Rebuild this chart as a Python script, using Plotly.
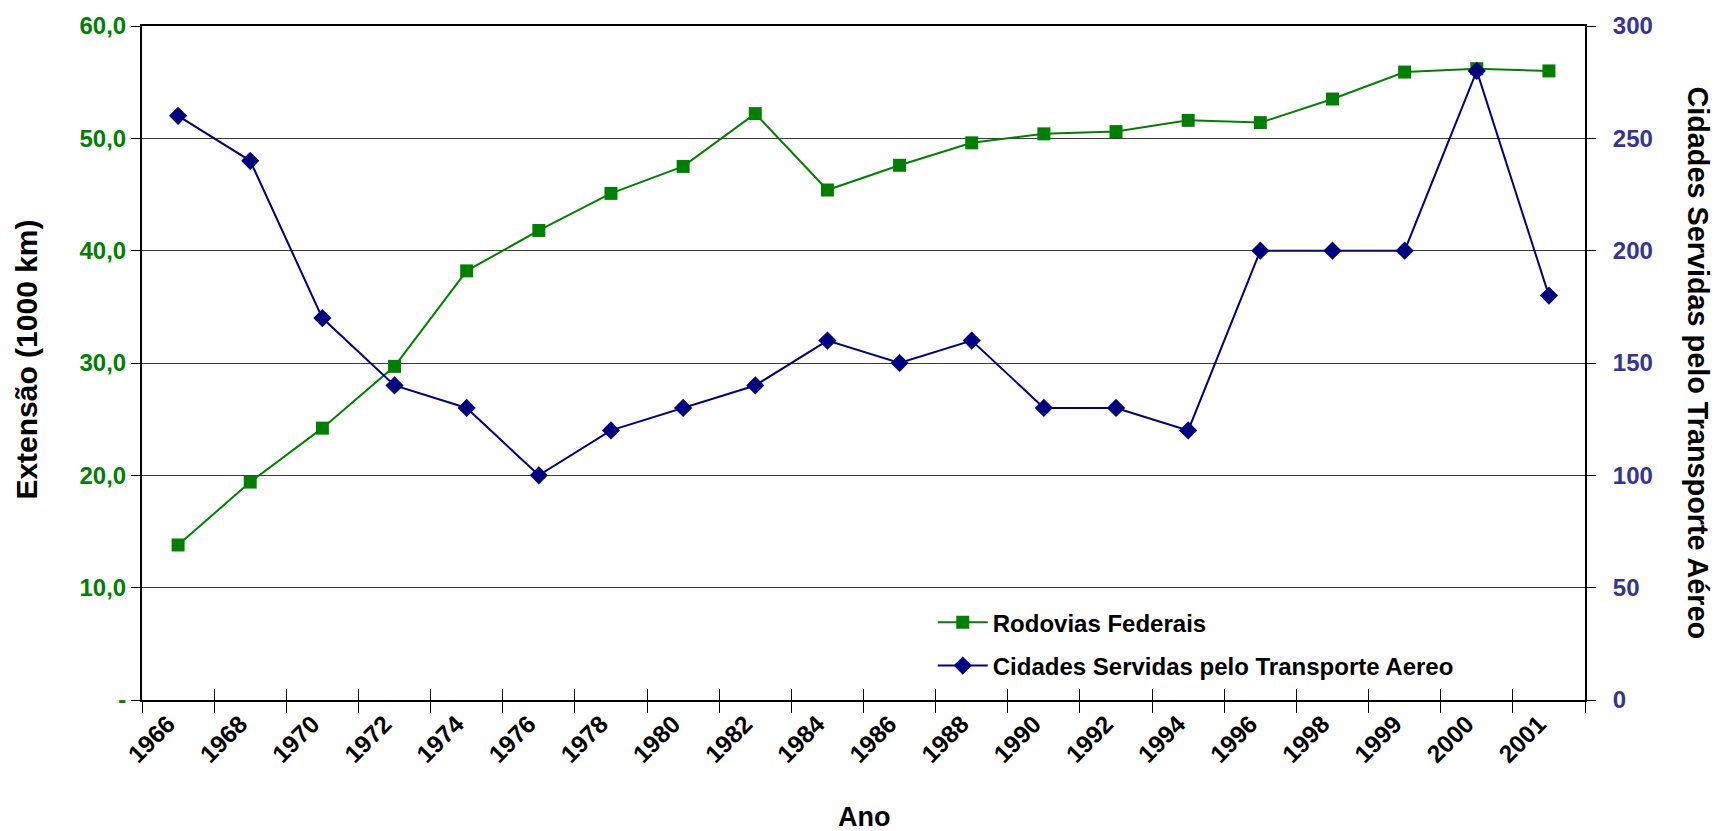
import plotly.graph_objects as go

anos = ["1966", "1968", "1970", "1972", "1974", "1976", "1978", "1980", "1982", "1984",
        "1986", "1988", "1990", "1992", "1994", "1996", "1998", "1999", "2000", "2001"]
rodovias = [13.8, 19.4, 24.2, 29.7, 38.2, 41.8, 45.1, 47.5, 52.2, 45.4,
            47.6, 49.6, 50.4, 50.6, 51.6, 51.4, 53.5, 55.9, 56.2, 56.0]
cidades = [260, 240, 170, 140, 130, 100, 120, 130, 140, 160,
           150, 160, 130, 130, 120, 200, 200, 200, 280, 180]

left_vals = [0, 10, 20, 30, 40, 50, 60]
left_text = ["-", "10,0", "20,0", "30,0", "40,0", "50,0", "60,0"]
right_vals = [0, 50, 100, 150, 200, 250, 300]

GREEN = "#008000"
NAVY = "#000080"
RIGHT_TICK = "#333399"
FONT = "Liberation Sans, Arial, sans-serif"

fig = go.Figure()
fig.add_trace(go.Scatter(
    x=anos, y=rodovias, name="Rodovias Federais", mode="lines+markers",
    line=dict(color=GREEN, width=2), marker=dict(symbol="square", size=13, color=GREEN),
    xaxis="x", yaxis="y", legendgroup="a"))
fig.add_trace(go.Scatter(
    x=anos, y=cidades, name="Cidades Servidas pelo Transporte Aereo", mode="lines+markers",
    line=dict(color=NAVY, width=2), marker=dict(symbol="diamond", size=14, color=NAVY),
    xaxis="x2", yaxis="y2", legendgroup="b"))

xr = [-0.5, len(anos) - 0.5]
fig.update_layout(
    width=1715, height=831,
    margin=dict(l=142, r=130, t=23, b=131),
    paper_bgcolor="white", plot_bgcolor="white",
    font=dict(family=FONT, color="black", size=24),
    showlegend=True,
    legend=dict(x=0.548, y=0.148, xanchor="left", yanchor="top",
                bgcolor="rgba(0,0,0,0)", font=dict(size=24, weight="bold", color="black"),
                tracegroupgap=9, itemwidth=50),
    xaxis=dict(type="category", categoryorder="array", categoryarray=anos, range=xr,
               tickson="boundaries", ticks="outside", ticklen=11, tickcolor="black", tickwidth=1,
               showline=True, linecolor="black", linewidth=2, mirror=True,
               showgrid=False, zeroline=False, tickangle=-45,
               ticklabelstandoff=-2, ticklabelshift=-10,
               tickfont=dict(size=24.5, weight="bold", color="black")),
    xaxis2=dict(type="category", categoryorder="array", categoryarray=anos, range=xr,
                overlaying="x", anchor="y2", side="bottom",
                tickson="boundaries", ticks="inside", ticklen=11, tickcolor="black", tickwidth=1,
                showticklabels=False, showline=False, showgrid=False, zeroline=False),
    yaxis=dict(range=[0, 60], tickvals=left_vals, ticktext=left_text,
               ticks="outside", ticklen=9, tickcolor="black", tickwidth=1,
               showline=True, linecolor="black", linewidth=2,
               showgrid=True, gridcolor="#3a3a3a", gridwidth=1, zeroline=False,
               tickfont=dict(size=24, weight="bold", color=GREEN), ticklabelstandoff=0),
    yaxis2=dict(range=[0, 300], tickvals=right_vals, overlaying="y", side="right", anchor="x",
                ticks="outside", ticklen=9, tickcolor="black", tickwidth=1,
                showline=True, linecolor="black", linewidth=2,
                showgrid=False, zeroline=False,
                tickfont=dict(size=24, weight="bold", color=RIGHT_TICK), ticklabelstandoff=12),
    annotations=[
        dict(text="Extensão (1000 km)", xref="paper", yref="paper", x=-0.0797, y=0.505,
             textangle=-90, showarrow=False, xanchor="center", yanchor="middle",
             font=dict(size=30, weight="bold", color="black")),
        dict(text="Cidades Servidas pelo Transporte Aéreo", xref="paper", yref="paper",
             x=1.078, y=0.5, textangle=90, showarrow=False, xanchor="center", yanchor="middle",
             font=dict(size=28.8, weight="bold", color="black")),
        dict(text="Ano", xref="paper", yref="paper", x=0.5, y=-0.173,
             showarrow=False, xanchor="center", yanchor="middle",
             font=dict(size=27, weight="bold", color="black")),
    ],
)

fig.write_html("out.html", config={"displayModeBar": False},
               post_script="document.body.style.margin='0';")
